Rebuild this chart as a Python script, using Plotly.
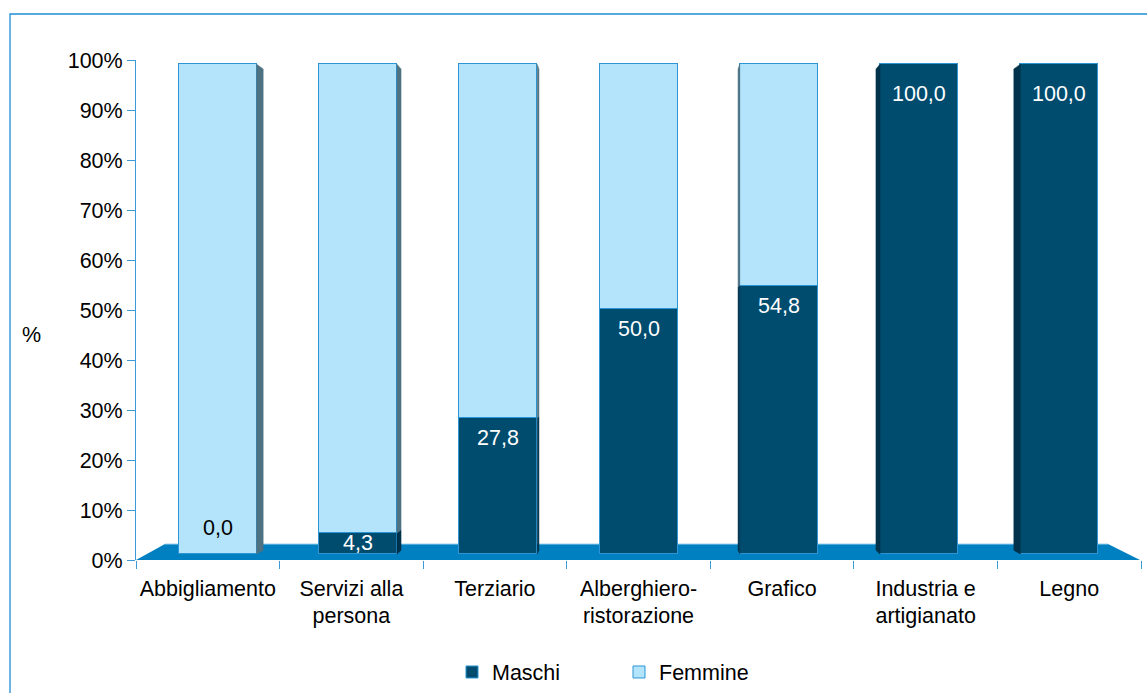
import plotly.graph_objects as go

# ---- data ----
categories = ["Abbigliamento", "Servizi alla<br>persona", "Terziario",
              "Alberghiero-<br>ristorazione", "Grafico",
              "Industria e<br>artigianato", "Legno"]
maschi = [0.0, 4.3, 27.8, 50.0, 54.8, 100.0, 100.0]
femmine = [100.0, 95.7, 72.2, 50.0, 45.2, 0.0, 0.0]
y_ticks = [0, 10, 20, 30, 40, 50, 60, 70, 80, 90, 100]

# ---- styling ----
FONT = "Liberation Sans, Arial, sans-serif"
FS = 21.5
DARK = "#004c6f"
LIGHT = "#b4e4fb"
DARK_SIDE = "#00324b"
LIGHT_SIDE = "#4e7282"
EDGE = "#2b95d6"
FLOOR = "#0080c1"
AXIS = "#3b9bd8"

W, H = 1147, 693
L, R, T, B = 136, 1141, 60, 560          # plot area in pixels
n = len(categories)
cat_px = (R - L) / n

# perspective of the pseudo-3D bars
bar_w = 78 / cat_px                        # front face width (category units)
pull = 3.3 / cat_px                        # shift of each bar toward the centre
depth = 0.017                              # depth factor toward vanishing point
vp_x, vp_y = (n - 1) / 2, 43.7             # vanishing point in bar-axis units
centre = (n - 1) / 2

x_pos = [i + (centre - i) * pull for i in range(n)]

fig = go.Figure()

# invisible trace that anchors the percentage axis
fig.add_trace(go.Scatter(x=categories, y=maschi, xaxis="x", yaxis="y",
                         mode="markers", marker=dict(opacity=0),
                         hoverinfo="skip", showlegend=False))

# side faces of the bars (drawn first, behind the fronts)
for i in range(n):
    if i == centre:
        continue
    xe = x_pos[i] + (bar_w / 2 if i < centre else -bar_w / 2)
    xb = xe + (vp_x - xe) * depth
    segs = [(0, maschi[i], DARK_SIDE), (maschi[i], maschi[i] + femmine[i], LIGHT_SIDE)]
    for y0, y1, col in segs:
        if y1 - y0 <= 0:
            continue
        yb0 = y0 + (vp_y - y0) * depth
        yb1 = y1 + (vp_y - y1) * depth
        fig.add_trace(go.Scatter(
            x=[xe, xe, xb, xb, xe], y=[y0, y1, yb1, yb0, y0],
            xaxis="x2", yaxis="y2", mode="lines", fill="toself",
            fillcolor=col, line=dict(width=0.5, color=col),
            hoverinfo="skip", showlegend=False))

offsets = [x_pos[i] - i - bar_w / 2 for i in range(n)]

fig.add_trace(go.Bar(
    name="Maschi", x=categories, y=maschi, xaxis="x", yaxis="y2",
    width=bar_w, offset=offsets,
    marker=dict(color=DARK, line=dict(color=EDGE, width=1))))
fig.add_trace(go.Bar(
    name="Femmine", x=categories, y=femmine, xaxis="x", yaxis="y2",
    width=bar_w, offset=offsets,
    marker=dict(color=LIGHT, line=dict(color=EDGE, width=1))))

# value labels for the Maschi share
annotations = []
for i, m in enumerate(maschi):
    txt = f"{m:.1f}".replace(".", ",")
    if m == 0:
        y, shift, col = 0, 26, "#000000"
    elif m < 8:
        y, shift, col = m / 2, 0, "#ffffff"
    else:
        y, shift, col = min(m, 98), -20, "#ffffff"
    annotations.append(dict(
        x=x_pos[i], y=y, xref="x2", yref="y2", text=txt, showarrow=False,
        xanchor="center", yanchor="middle", yshift=shift,
        font=dict(size=FS, color=col, family=FONT)))

fx = lambda px: (px - L) / (R - L)
fy = lambda py: (B - py) / (B - T)

annotations.append(dict(
    x=fx(31), y=fy(335), xref="paper", yref="paper", xanchor="center",
    yanchor="middle", text="%", showarrow=False,
    font=dict(size=FS, color="#000", family=FONT)))

# floor and outer frame
floor_path = (f"M {fx(136)},{fy(560)} L {fx(165)},{fy(544)} "
              f"L {fx(1108)},{fy(544)} L {fx(1140)},{fy(560)} Z")
shapes = [
    dict(type="path", xref="paper", yref="paper", path=floor_path,
         fillcolor=FLOOR, line=dict(width=0), layer="below"),
    dict(type="line", xref="paper", yref="paper", x0=fx(165), y0=fy(544),
         x1=fx(1108), y1=fy(544), line=dict(color="#9cd0ef", width=1), layer="below"),
    dict(type="rect", xref="paper", yref="paper", x0=fx(10), y0=fy(720),
         x1=fx(1180), y1=fy(14), line=dict(color="#1f8fd6", width=1.3),
         fillcolor="rgba(0,0,0,0)", layer="below"),
]

fig.update_layout(
    width=W, height=H,
    margin=dict(l=L, r=W - R, t=T, b=H - B, autoexpand=False),
    paper_bgcolor="white", plot_bgcolor="white",
    barmode="stack", bargap=0,
    font=dict(family=FONT, size=FS, color="#000"),
    xaxis=dict(type="category", categoryorder="array", categoryarray=categories,
               range=[-0.5, n - 0.5], tickson="boundaries", ticks="outside",
               ticklen=8, tickcolor=AXIS, showline=False, showgrid=False,
               zeroline=False, tickfont=dict(size=FS), ticklabelstandoff=13,
               tickangle=0, automargin=False),
    xaxis2=dict(overlaying="x", range=[-0.5, n - 0.5], visible=False),
    yaxis=dict(range=[0, 100], tickvals=y_ticks,
               ticktext=[f"{v}%" for v in y_ticks], ticks="outside", ticklen=8,
               tickcolor=AXIS, showline=True, linecolor=AXIS, linewidth=1,
               showgrid=False, zeroline=False, tickfont=dict(size=FS),
               automargin=False),
    yaxis2=dict(overlaying="y", range=[-6 / 4.9, 100 + 4.3 / 4.9], visible=False),
    legend=dict(orientation="h", x=fx(452), y=fy(672), xanchor="left",
                yanchor="middle", font=dict(size=FS), traceorder="normal",
                entrywidth=122, entrywidthmode="pixels",
                bgcolor="rgba(0,0,0,0)"),
    annotations=annotations, shapes=shapes,
)

fig.write_html("out.html")
